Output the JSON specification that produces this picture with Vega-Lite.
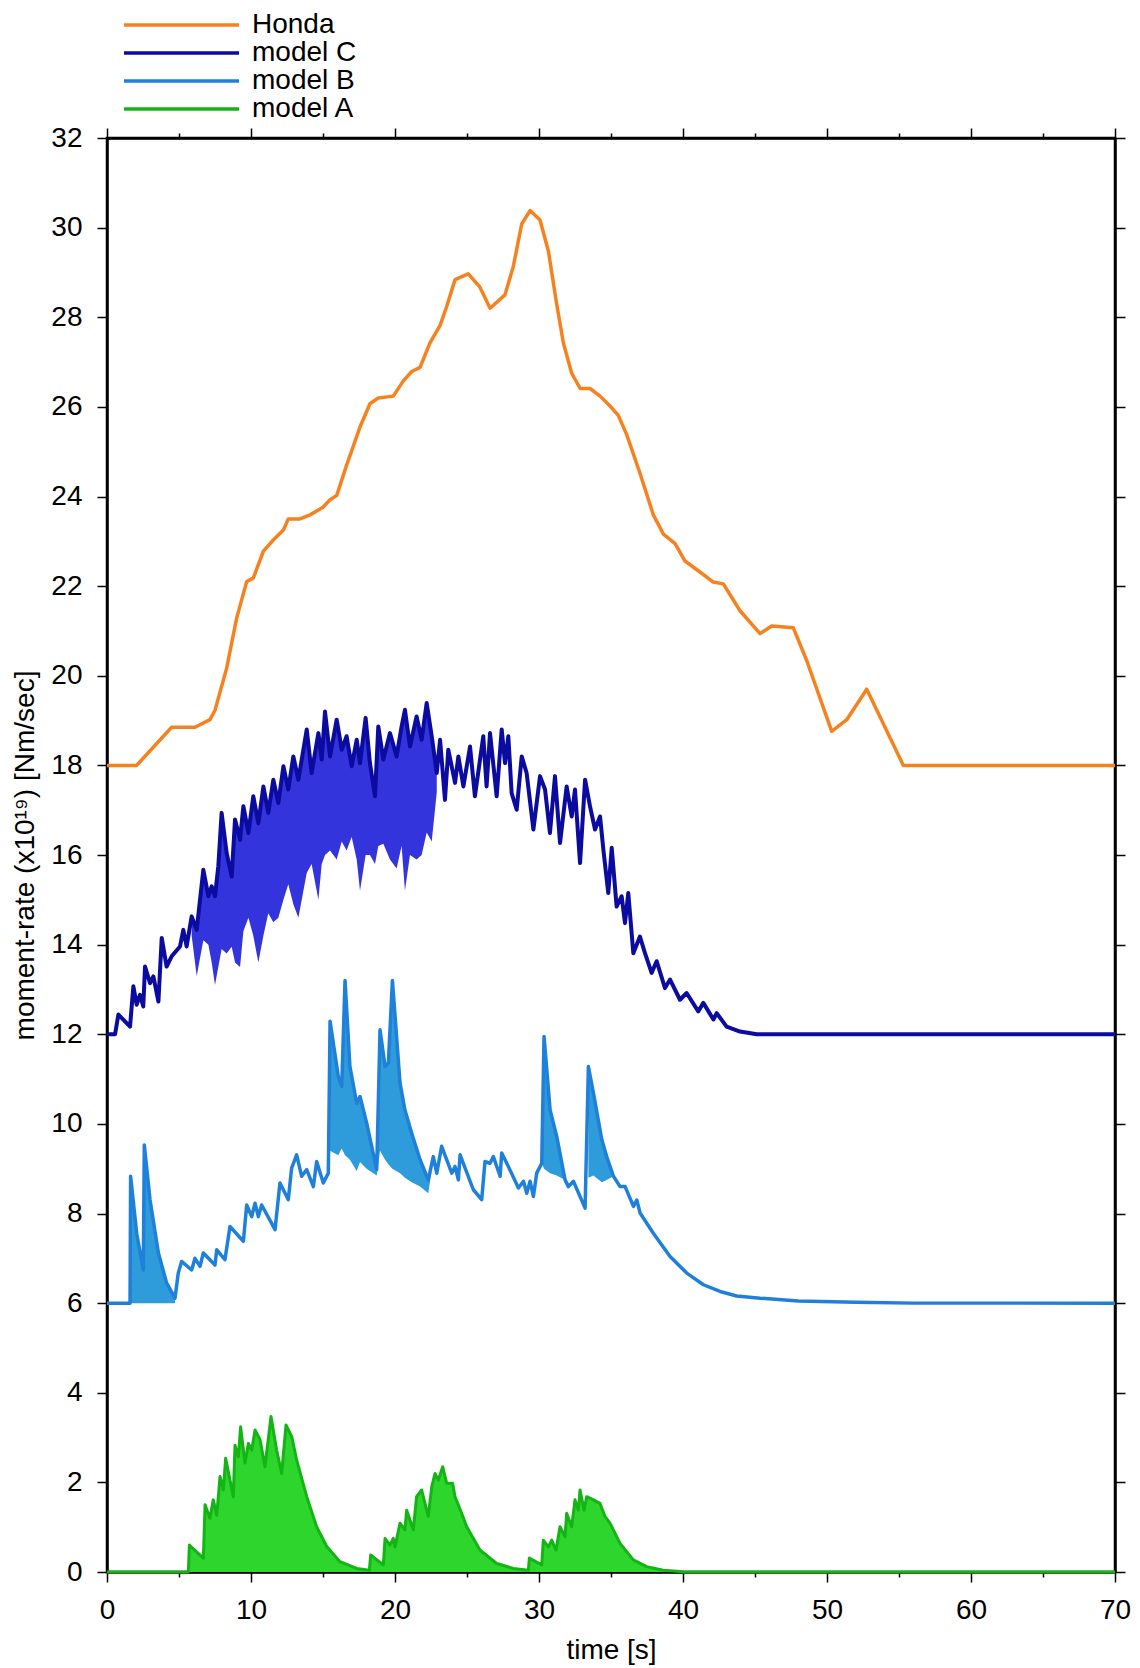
{
  "$schema": "https://vega.github.io/schema/vega-lite/v6.json",
  "width": 1008,
  "height": 1434,
  "autosize": {"type": "none"},
  "padding": {"left": 107, "top": 138, "right": 25, "bottom": 96},
  "background": "white",
  "config": {
    "view": {"stroke": "black", "strokeWidth": 2.5},
    "font": "Liberation Sans",
    "axis": {
      "domainColor": "black", "domainWidth": 2.5,
      "tickColor": "black", "tickWidth": 1.5,
      "labelFont": "Liberation Sans", "labelFontSize": 28, "labelColor": "black",
      "titleFont": "Liberation Sans", "titleFontSize": 28, "titleFontWeight": "normal", "titleColor": "black",
      "grid": false
    }
  },
  "datasets": {
    "honda": [
      {"t":0,"v":18},{"t":2.06,"v":18},{"t":4.49,"v":18.85},{"t":6.11,"v":18.85},{"t":7.15,"v":19.02},{"t":7.5,"v":19.23},{"t":8.31,"v":20.17},{"t":9.0,"v":21.28},{"t":9.7,"v":22.1},{"t":10.16,"v":22.18},{"t":10.86,"v":22.78},{"t":11.55,"v":23.03},{"t":12.25,"v":23.25},{"t":12.59,"v":23.5},{"t":13.4,"v":23.5},{"t":14.1,"v":23.59},{"t":15.0,"v":23.76},{"t":15.49,"v":23.93},{"t":15.95,"v":24.02},{"t":16.64,"v":24.7},{"t":17.57,"v":25.55},{"t":18.26,"v":26.07},{"t":18.84,"v":26.2},{"t":19.88,"v":26.24},{"t":20.58,"v":26.58},{"t":21.16,"v":26.79},{"t":21.74,"v":26.88},{"t":22.43,"v":27.43},{"t":23.13,"v":27.82},{"t":23.59,"v":28.24},{"t":24.17,"v":28.84},{"t":25.09,"v":28.97},{"t":25.9,"v":28.67},{"t":26.6,"v":28.2},{"t":27.64,"v":28.5},{"t":28.22,"v":29.14},{"t":28.8,"v":30.08},{"t":29.38,"v":30.38},{"t":30.07,"v":30.17},{"t":30.65,"v":29.48},{"t":31.23,"v":28.29},{"t":31.69,"v":27.43},{"t":32.27,"v":26.75},{"t":32.86,"v":26.41},{"t":33.54,"v":26.41},{"t":34.24,"v":26.24},{"t":34.93,"v":26.02},{"t":35.51,"v":25.81},{"t":36.09,"v":25.38},{"t":37.0,"v":24.53},{"t":37.94,"v":23.59},{"t":38.64,"v":23.16},{"t":39.45,"v":22.95},{"t":40.14,"v":22.56},{"t":41.41,"v":22.26},{"t":42.1,"v":22.09},{"t":42.8,"v":22.05},{"t":43.96,"v":21.45},{"t":45.35,"v":20.94},{"t":46.16,"v":21.11},{"t":47.66,"v":21.07},{"t":48.59,"v":20.34},{"t":50.33,"v":18.76},{"t":51.37,"v":19.02},{"t":52.76,"v":19.7},{"t":55.3,"v":18.0},{"t":70,"v":18.0}
    ],
    "modelC": [
      {"t":0,"v":12},{"t":0.56,"v":12},{"t":0.79,"v":12.44},{"t":1.6,"v":12.17},{"t":1.83,"v":13.07},{"t":2.06,"v":12.66},{"t":2.29,"v":12.88},{"t":2.52,"v":12.62},{"t":2.64,"v":13.51},{"t":2.99,"v":13.14},{"t":3.22,"v":13.29},{"t":3.57,"v":12.73},{"t":3.8,"v":14.15},{"t":4.14,"v":13.51},{"t":4.49,"v":13.74},{"t":5.07,"v":13.96},{"t":5.3,"v":14.33},{"t":5.53,"v":13.96},
      {"t":5.88,"v":14.63,"lo":14.2},{"t":6.23,"v":14.33,"lo":13.3},{"t":6.69,"v":15.67,"lo":14.1},{"t":7.04,"v":15.08,"lo":14.0},{"t":7.27,"v":15.3,"lo":13.6},{"t":7.5,"v":15.08,"lo":13.1},{"t":7.73,"v":15.75,"lo":13.5},{"t":7.96,"v":16.94,"lo":13.9},{"t":8.31,"v":16.04,"lo":13.8},{"t":8.66,"v":15.52,"lo":13.95},{"t":8.89,"v":16.79,"lo":13.6},{"t":9.24,"v":16.34,"lo":13.5},{"t":9.47,"v":17.09,"lo":14.3},{"t":9.82,"v":16.49,"lo":14.6},{"t":10.16,"v":17.31,"lo":14.2},{"t":10.51,"v":16.71,"lo":13.6},{"t":10.86,"v":17.53,"lo":14.2},{"t":11.2,"v":16.94,"lo":14.7},{"t":11.55,"v":17.68,"lo":14.5},{"t":11.9,"v":17.16,"lo":14.6},{"t":12.25,"v":17.98,"lo":15.0},{"t":12.59,"v":17.46,"lo":15.35},{"t":12.94,"v":18.2,"lo":14.9},{"t":13.29,"v":17.68,"lo":14.6},{"t":13.87,"v":18.8,"lo":15.6},{"t":14.21,"v":17.83,"lo":15.8},{"t":14.68,"v":18.72,"lo":15.0},{"t":14.91,"v":18.13,"lo":15.8},{"t":15.14,"v":19.2,"lo":16.0},{"t":15.49,"v":18.2,"lo":16.1},{"t":15.95,"v":19.02,"lo":15.9},{"t":16.3,"v":18.35,"lo":16.3},{"t":16.64,"v":18.65,"lo":16.1},{"t":16.99,"v":17.98,"lo":16.4},{"t":17.34,"v":18.57,"lo":15.9},{"t":17.57,"v":18.05,"lo":15.2},{"t":17.96,"v":19.06,"lo":16.0},{"t":18.26,"v":18.05,"lo":16.0},{"t":18.61,"v":17.31,"lo":15.8},{"t":18.84,"v":18.87,"lo":16.2},{"t":19.19,"v":18.13,"lo":16.25},{"t":19.65,"v":18.72,"lo":15.9},{"t":20.11,"v":18.2,"lo":15.7},{"t":20.46,"v":18.87,"lo":16.2},{"t":20.69,"v":19.24,"lo":15.2},{"t":21.04,"v":18.42,"lo":16.0},{"t":21.5,"v":19.09,"lo":15.9},{"t":21.85,"v":18.57,"lo":16.0},{"t":22.2,"v":19.39,"lo":16.5},{"t":22.55,"v":18.65,"lo":16.3},{"t":22.9,"v":17.83,"lo":17.4},
      {"t":23.13,"v":18.57},{"t":23.47,"v":17.23},{"t":23.7,"v":18.35},{"t":24.17,"v":17.61},{"t":24.4,"v":18.2},{"t":24.75,"v":17.53},{"t":25.21,"v":18.42},{"t":25.55,"v":17.31},{"t":26.13,"v":18.65},{"t":26.36,"v":17.53},{"t":26.6,"v":18.72},{"t":27.06,"v":17.31},{"t":27.41,"v":18.8},{"t":27.64,"v":18.05},{"t":27.87,"v":18.65},{"t":28.1,"v":17.38},{"t":28.45,"v":17.01},{"t":28.8,"v":18.2},{"t":29.14,"v":17.83},{"t":29.61,"v":16.57},{"t":30.07,"v":17.76},{"t":30.42,"v":17.46},{"t":30.76,"v":16.49},{"t":31.11,"v":17.76},{"t":31.46,"v":16.27},{"t":31.92,"v":17.53},{"t":32.27,"v":16.86},{"t":32.5,"v":17.46},{"t":32.85,"v":15.82},{"t":33.2,"v":17.68},{"t":33.54,"v":17.09},{"t":33.89,"v":16.57},{"t":34.24,"v":16.86},{"t":34.47,"v":16.12},{"t":34.81,"v":15.15},{"t":35.05,"v":16.16},{"t":35.39,"v":14.85},{"t":35.74,"v":15.08},{"t":35.97,"v":14.48},{"t":36.2,"v":15.15},{"t":36.55,"v":13.81},{"t":37.01,"v":14.18},{"t":37.36,"v":13.81},{"t":37.82,"v":13.37},{"t":38.17,"v":13.63},{"t":38.75,"v":13.03},{"t":39.1,"v":13.22},{"t":39.79,"v":12.77},{"t":40.25,"v":12.92},{"t":41.06,"v":12.51},{"t":41.41,"v":12.7},{"t":42.11,"v":12.33},{"t":42.34,"v":12.47},{"t":43.03,"v":12.17},{"t":43.96,"v":12.06},{"t":45.12,"v":12.0},{"t":70,"v":12.0}
    ],
    "modelB": [
      {"t":0,"v":6},{"t":1.6,"v":6},
      {"t":1.64,"v":8.83,"lo":6.0,"seg":1},{"t":2.06,"v":7.56,"lo":6.0,"seg":1},{"t":2.52,"v":6.74,"lo":6.0,"seg":1},{"t":2.59,"v":9.53,"lo":6.0,"seg":1},{"t":2.99,"v":8.3,"lo":6.0,"seg":1},{"t":3.57,"v":7.12,"lo":6.0,"seg":1},{"t":4.14,"v":6.45,"lo":6.0,"seg":1},{"t":4.72,"v":6.11,"lo":6.0,"seg":1},
      {"t":4.95,"v":6.67},{"t":5.18,"v":6.93},{"t":5.88,"v":6.74},{"t":6.11,"v":7.0},{"t":6.46,"v":6.82},{"t":6.69,"v":7.12},{"t":7.5,"v":6.85},{"t":7.62,"v":7.19},{"t":8.19,"v":6.97},{"t":8.54,"v":7.71},{"t":9.47,"v":7.38},{"t":9.7,"v":8.19},{"t":10.05,"v":7.93},{"t":10.28,"v":8.23},{"t":10.51,"v":7.93},{"t":10.74,"v":8.19},{"t":11.67,"v":7.64},{"t":12.01,"v":8.68},{"t":12.59,"v":8.31},{"t":12.82,"v":9.01},{"t":13.17,"v":9.31},{"t":13.52,"v":8.83},{"t":13.87,"v":8.98},{"t":14.33,"v":8.6},{"t":14.56,"v":9.16},{"t":15.02,"v":8.68},{"t":15.37,"v":8.9},
      {"t":15.49,"v":12.29,"lo":9.4,"seg":2},{"t":16.06,"v":11.06,"lo":9.3,"seg":2},{"t":16.3,"v":10.84,"lo":9.45,"seg":2},{"t":16.53,"v":13.2,"lo":9.3,"seg":2},{"t":16.87,"v":11.28,"lo":9.2,"seg":2},{"t":17.34,"v":10.46,"lo":8.95,"seg":2},{"t":17.57,"v":10.61,"lo":9.15,"seg":2},{"t":18.03,"v":10.02,"lo":9.0,"seg":2},{"t":18.73,"v":8.98,"lo":8.85,"seg":2},{"t":18.96,"v":12.1,"lo":9.4,"seg":2},{"t":19.31,"v":11.28,"lo":9.2,"seg":2},{"t":19.54,"v":11.36,"lo":9.1,"seg":2},{"t":19.82,"v":13.2,"lo":9.0,"seg":2},{"t":20.35,"v":10.91,"lo":8.9,"seg":2},{"t":20.69,"v":10.31,"lo":8.8,"seg":2},{"t":21.16,"v":9.79,"lo":8.7,"seg":2},{"t":21.74,"v":9.2,"lo":8.6,"seg":2},{"t":22.31,"v":8.75,"lo":8.45,"seg":2},{"t":22.66,"v":9.27,"lo":9.2,"seg":2},
      {"t":22.9,"v":8.9},{"t":23.24,"v":9.5},{"t":23.94,"v":8.9},{"t":24.17,"v":9.05},{"t":24.4,"v":8.75},{"t":24.52,"v":9.31},{"t":25.44,"v":8.53},{"t":26.02,"v":8.31},{"t":26.25,"v":9.16},{"t":26.6,"v":9.12},{"t":26.83,"v":9.27},{"t":27.3,"v":8.83},{"t":27.41,"v":9.35},{"t":27.87,"v":9.05},{"t":28.57,"v":8.57},{"t":28.92,"v":8.72},{"t":29.15,"v":8.45},{"t":29.38,"v":8.72},{"t":29.61,"v":8.38},{"t":29.84,"v":8.9},
      {"t":30.19,"v":9.12,"lo":9.12,"seg":3},{"t":30.35,"v":11.95,"lo":9.0,"seg":3},{"t":30.77,"v":10.31,"lo":8.9,"seg":3},{"t":31.23,"v":9.72,"lo":8.85,"seg":3},{"t":31.81,"v":8.75,"lo":8.75,"seg":3},
      {"t":32.04,"v":8.6},{"t":32.39,"v":8.72},{"t":33.2,"v":8.12},
      {"t":33.43,"v":11.28,"lo":8.8,"seg":4},{"t":33.78,"v":10.69,"lo":8.85,"seg":4},{"t":34.36,"v":9.65,"lo":8.7,"seg":4},{"t":34.7,"v":9.27,"lo":8.75,"seg":4},{"t":35.17,"v":8.83,"lo":8.83,"seg":4},
      {"t":35.63,"v":8.6},{"t":35.98,"v":8.6},{"t":36.56,"v":8.16},{"t":36.79,"v":8.3},{"t":37.02,"v":8.01},{"t":37.94,"v":7.56},{"t":39.1,"v":7.04},{"t":40.26,"v":6.67},{"t":41.42,"v":6.41},{"t":42.57,"v":6.26},{"t":43.73,"v":6.16},{"t":45.35,"v":6.11},{"t":48,"v":6.05},{"t":52,"v":6.02},{"t":56,"v":6.0},{"t":70,"v":6.0}
    ],
    "modelA": [
      {"t":0,"v":0},{"t":5.65,"v":0},{"t":5.72,"v":0.6},{"t":6.69,"v":0.31},{"t":6.81,"v":1.5},{"t":7.15,"v":1.2},{"t":7.38,"v":1.61},{"t":7.62,"v":1.27},{"t":7.85,"v":2.13},{"t":8.08,"v":1.83},{"t":8.24,"v":2.54},{"t":8.77,"v":1.68},{"t":8.89,"v":2.83},{"t":9.12,"v":2.57},{"t":9.28,"v":3.24},{"t":9.58,"v":2.43},{"t":9.82,"v":2.87},{"t":10.05,"v":2.72},{"t":10.28,"v":3.17},{"t":10.63,"v":2.95},{"t":10.97,"v":2.35},{"t":11.39,"v":3.47},{"t":11.78,"v":2.72},{"t":12.13,"v":2.2},{"t":12.43,"v":3.28},{"t":12.83,"v":3.02},{"t":13.17,"v":2.5},{"t":13.87,"v":1.68},{"t":14.56,"v":1.01},{"t":15.26,"v":0.57},{"t":16.18,"v":0.23},{"t":17.34,"v":0.08},{"t":18.22,"v":0.04},{"t":18.31,"v":0.38},{"t":19.19,"v":0.16},{"t":19.31,"v":0.75},{"t":19.65,"v":0.6},{"t":19.88,"v":0.75},{"t":20.0,"v":0.56},{"t":20.35,"v":1.09},{"t":20.69,"v":0.94},{"t":20.81,"v":1.38},{"t":21.27,"v":0.94},{"t":21.5,"v":1.68},{"t":21.85,"v":1.83},{"t":22.31,"v":1.24},{"t":22.55,"v":1.9},{"t":22.78,"v":2.2},{"t":23.01,"v":2.05},{"t":23.31,"v":2.35},{"t":23.59,"v":1.98},{"t":24.0,"v":1.98},{"t":24.17,"v":1.68},{"t":24.63,"v":1.31},{"t":24.98,"v":1.01},{"t":25.9,"v":0.49},{"t":27.06,"v":0.19},{"t":28.22,"v":0.08},{"t":29.26,"v":0.04},{"t":29.33,"v":0.31},{"t":30.19,"v":0.16},{"t":30.3,"v":0.71},{"t":30.65,"v":0.56},{"t":30.88,"v":0.71},{"t":31.18,"v":0.49},{"t":31.46,"v":1.01},{"t":31.81,"v":0.79},{"t":31.92,"v":1.31},{"t":32.27,"v":1.01},{"t":32.5,"v":1.61},{"t":32.73,"v":1.38},{"t":32.85,"v":1.83},{"t":33.13,"v":1.38},{"t":33.31,"v":1.68},{"t":33.78,"v":1.61},{"t":34.24,"v":1.53},{"t":34.58,"v":1.24},{"t":34.93,"v":1.09},{"t":35.63,"v":0.64},{"t":36.55,"v":0.27},{"t":37.48,"v":0.12},{"t":38.63,"v":0.04},{"t":39.79,"v":0.01},{"t":40.0,"v":0},{"t":70,"v":0}
    ]
  },
  "resolve": {"axis": {"x": "independent", "y": "independent"}},
  "layer": [
    {
      "data": {"name": "modelA"},
      "mark": {"type": "area", "color": "#2DD52D", "opacity": 1},
      "encoding": {
        "x": {"field": "t", "type": "quantitative", "scale": {"domain": [0, 70], "nice": false, "zero": false},
          "axis": {"orient": "bottom", "values": [0,5,10,15,20,25,30,35,40,45,50,55,60,65,70],
            "labelExpr": "datum.value % 10 === 0 ? datum.label : ''",
            "tickSize": {"condition": {"test": "datum.value % 10 === 0", "value": 10}, "value": 5},
            "labelPadding": 14, "labelFlush": false, "labelOverlap": false,
            "title": "time [s]", "titlePadding": 12}},
        "y": {"field": "v", "type": "quantitative", "scale": {"domain": [0, 32], "nice": false},
          "axis": {"orient": "left", "values": [0,2,4,6,8,10,12,14,16,18,20,22,24,26,28,30,32],
            "tickSize": 10, "labelPadding": 15, "labelFlush": false, "labelOverlap": false,
            "title": "moment-rate (x10¹⁹) [Nm/sec]", "titlePadding": 11}}
      }
    },
    {
      "data": {"name": "modelA"},
      "mark": {"type": "line", "strokeWidth": 3, "strokeJoin": "round"},
      "encoding": {
        "x": {"field": "t", "type": "quantitative", "scale": {"domain": [0, 70], "nice": false, "zero": false},
          "axis": {"orient": "top", "values": [0,5,10,15,20,25,30,35,40,45,50,55,60,65,70], "labels": false, "title": null,
            "tickSize": {"condition": {"test": "datum.value % 10 === 0", "value": 10}, "value": 5}}},
        "y": {"field": "v", "type": "quantitative", "scale": {"domain": [0, 32], "nice": false},
          "axis": {"orient": "right", "values": [0,2,4,6,8,10,12,14,16,18,20,22,24,26,28,30,32], "labels": false, "title": null, "tickSize": 10}},
        "color": {"datum": "model A", "type": "nominal",
          "scale": {"domain": ["Honda", "model C", "model B", "model A"], "range": ["#F5821F", "#0B0BA0", "#1F80DA", "#14B414"]}}
      }
    },
    {
      "data": {"name": "modelB"},
      "transform": [{"filter": "isValid(datum.lo)"}],
      "mark": {"type": "area", "color": "#2E9BDA", "opacity": 1},
      "encoding": {
        "x": {"field": "t", "type": "quantitative", "scale": {"domain": [0, 70], "nice": false, "zero": false}, "axis": null},
        "y": {"field": "v", "type": "quantitative", "scale": {"domain": [0, 32], "nice": false}, "axis": null},
        "y2": {"field": "lo"},
        "detail": {"field": "seg", "type": "nominal"}
      }
    },
    {
      "data": {"name": "modelB"},
      "mark": {"type": "line", "strokeWidth": 3.5, "strokeJoin": "round"},
      "encoding": {
        "x": {"field": "t", "type": "quantitative", "scale": {"domain": [0, 70], "nice": false, "zero": false}, "axis": null},
        "y": {"field": "v", "type": "quantitative", "scale": {"domain": [0, 32], "nice": false}, "axis": null},
        "color": {"datum": "model B", "type": "nominal",
          "scale": {"domain": ["Honda", "model C", "model B", "model A"], "range": ["#F5821F", "#0B0BA0", "#1F80DA", "#14B414"]}}
      }
    },
    {
      "data": {"name": "modelC"},
      "transform": [{"filter": "isValid(datum.lo)"}],
      "mark": {"type": "area", "color": "#3434DC", "opacity": 1},
      "encoding": {
        "x": {"field": "t", "type": "quantitative", "scale": {"domain": [0, 70], "nice": false, "zero": false}, "axis": null},
        "y": {"field": "v", "type": "quantitative", "scale": {"domain": [0, 32], "nice": false}, "axis": null},
        "y2": {"field": "lo"}
      }
    },
    {
      "data": {"name": "modelC"},
      "mark": {"type": "line", "strokeWidth": 4, "strokeJoin": "round"},
      "encoding": {
        "x": {"field": "t", "type": "quantitative", "scale": {"domain": [0, 70], "nice": false, "zero": false}, "axis": null},
        "y": {"field": "v", "type": "quantitative", "scale": {"domain": [0, 32], "nice": false}, "axis": null},
        "color": {"datum": "model C", "type": "nominal",
          "scale": {"domain": ["Honda", "model C", "model B", "model A"], "range": ["#F5821F", "#0B0BA0", "#1F80DA", "#14B414"]}}
      }
    },
    {
      "data": {"name": "honda"},
      "mark": {"type": "line", "strokeWidth": 3.5, "strokeJoin": "round"},
      "encoding": {
        "x": {"field": "t", "type": "quantitative", "scale": {"domain": [0, 70], "nice": false, "zero": false}, "axis": null},
        "y": {"field": "v", "type": "quantitative", "scale": {"domain": [0, 32], "nice": false}, "axis": null},
        "color": {"datum": "Honda", "type": "nominal",
          "scale": {"domain": ["Honda", "model C", "model B", "model A"], "range": ["#F5821F", "#0B0BA0", "#1F80DA", "#14B414"]},
          "legend": {"orient": "none", "legendX": 15, "legendY": -127, "title": null,
            "symbolType": "stroke", "symbolSize": 13225, "symbolStrokeWidth": 3.5, "clipHeight": 28,
            "labelFont": "Liberation Sans", "labelFontSize": 28, "labelColor": "black", "labelOffset": 11,
            "labelLimit": 0, "rowPadding": 0, "padding": 0}}
      }
    }
  ]
}
